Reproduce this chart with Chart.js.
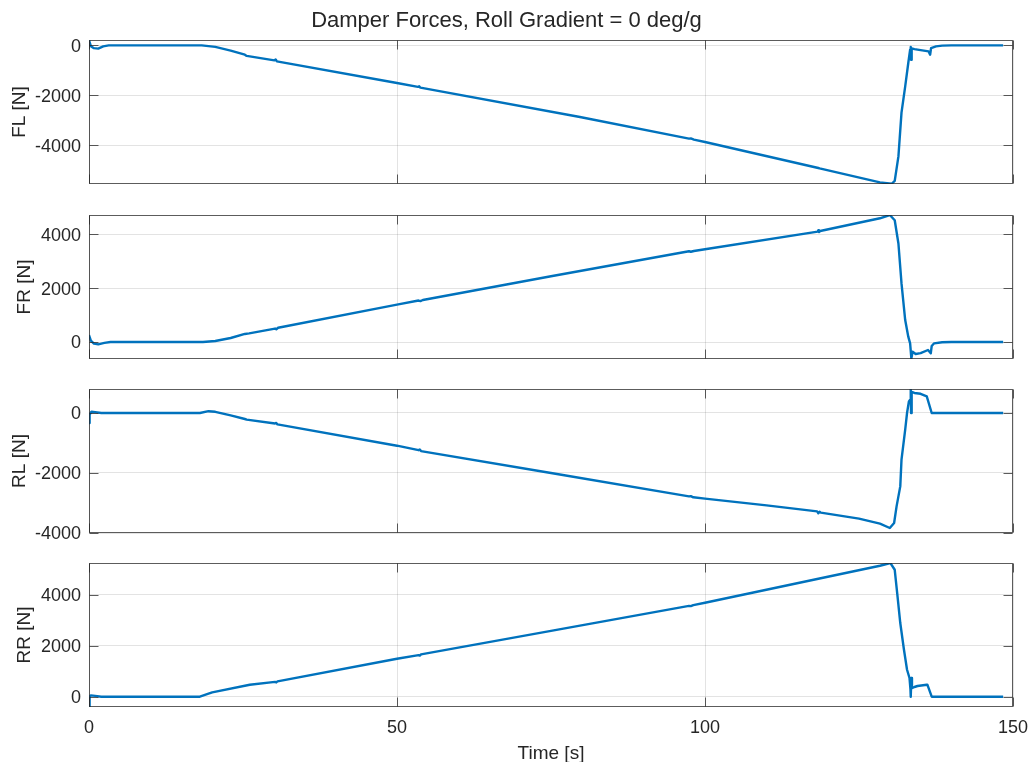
<!DOCTYPE html>
<html>
<head>
<meta charset="utf-8">
<title>Damper Forces</title>
<script src="https://cdn.jsdelivr.net/npm/chart.js@4"></script>
<style>
  html, body { margin: 0; padding: 0; background: #fff; overflow: hidden; }
  #wrap { position: relative; width: 1031px; height: 762px; }
  #wrap canvas { position: absolute; left: 0; }
</style>
</head>
<body>
<div id="wrap">
  <canvas id="flChart" width="1031" height="200" style="top:0px"></canvas>
  <canvas id="frChart" width="1031" height="180" style="top:195px"></canvas>
  <canvas id="rlChart" width="1031" height="180" style="top:369px"></canvas>
  <canvas id="rrChart" width="1031" height="219" style="top:543px"></canvas>
</div>
<script>
// Damper forces per corner
const titleText = 'Damper Forces, Roll Gradient = 0 deg/g'
const xLabel = 'Time [s]'
const xTicks = [0, 50, 100, 150]

const flTime = [0, 0.3, 0.8, 1.5, 2.3, 3.2, 18.3, 20.5, 23, 25.3, 25.6, 30.1, 30.3, 30.5, 50, 53.4, 53.6, 53.8, 79.7, 97.4, 97.7, 98.2, 100, 118.4, 118.6, 128.4, 130.3, 130.8, 131.4, 131.9, 132.5, 133.0, 133.3, 133.4, 133.45, 133.55, 134.0, 135.0, 136.3, 136.55, 136.7, 137.5, 138.5, 140, 148.4]
const flForce = [210, -30, -110, -130, -40, 0, 0, -60, -210, -372, -420, -600, -560, -640, -1504, -1660, -1630, -1690, -2864, -3730, -3720, -3770, -3864, -4904, -4920, -5480, -5535, -5420, -4440, -2692, -1640, -704, -172, -64, -572, -120, -150, -190, -240, -372, -110, -40, -10, 0, 0]

const frTime = [0, 0.3, 0.8, 1.5, 2.5, 3.5, 18.5, 20.5, 23, 25.3, 26, 30.2, 30.4, 30.7, 50, 53.5, 53.8, 54.2, 75, 97.4, 97.7, 98.2, 100, 118.3, 118.4, 118.5, 118.7, 128.4, 130.0, 130.8, 131.4, 131.9, 132.5, 133.0, 133.3, 133.5, 133.7, 134.2, 135.0, 136.2, 136.65, 136.8, 137.2, 138.5, 140, 148.4]
const frForce = [260, 50, -60, -85, -30, 0, 0, 40, 150, 300, 320, 500, 470, 530, 1390, 1540, 1520, 1560, 2440, 3370, 3350, 3380, 3445, 4100, 4150, 4080, 4120, 4593, 4715, 4519, 3656, 2174, 815, 198, -48, -604, -358, -444, -410, -296, -420, -150, -48, -10, 0, 0]

const rlTime = [0, 0.1, 0.4, 1.0, 2.0, 18.0, 19.4, 20.5, 23, 25.3, 25.6, 30.2, 30.4, 30.6, 50, 53.5, 53.7, 53.9, 75, 97.4, 97.7, 98.1, 100, 110, 118.2, 118.4, 118.6, 118.8, 125, 128.4, 130.0, 130.7, 131.1, 131.7, 131.9, 132.5, 132.8, 133.1, 133.3, 133.4, 133.45, 133.55, 134.0, 135.0, 136.0, 136.8, 148.4]
const rlForce = [-333, -50, 40, 30, 0, 0, 60, 40, -80, -200, -220, -350, -330, -380, -1090, -1240, -1220, -1270, -2000, -2780, -2770, -2810, -2856, -3080, -3280, -3340, -3290, -3320, -3520, -3690, -3833, -3666, -3113, -2446, -1556, -556, 0, 387, 443, 800, 0, 700, 667, 640, 553, 0, 0]

const rrTime = [0, 0.1, 0.3, 1, 2, 18, 19.4, 20, 26.1, 30.2, 30.4, 30.6, 50, 53.5, 53.7, 53.9, 75, 97.4, 97.7, 98.1, 100, 118.4, 128.4, 130.1, 130.8, 131.2, 131.7, 132.3, 132.8, 133.2, 133.35, 133.4, 133.5, 133.6, 134.0, 134.5, 136.0, 136.1, 136.8, 148.4]
const rrForce = [-400, 0, 50, 30, 0, 0, 117, 170, 470, 580, 560, 600, 1490, 1630, 1610, 1660, 2580, 3560, 3550, 3590, 3685, 4626, 5135, 5241, 4978, 4065, 2889, 1842, 1058, 732, 300, 0, 732, 340, 380, 420, 470, 470, 0, 0]

const flTicks = [-4000, -2000, 0]
const frTicks = [0, 2000, 4000]
const rlTicks = [-4000, -2000, 0]
const rrTicks = [0, 2000, 4000]

const flRange = [-5544, 216]
const frRange = [-630, 4715]
const rlRange = [-4000, 800]
const rrRange = [-404, 5243]

const FONT = "'Liberation Sans', Arial, Helvetica, sans-serif"
const TEXT = '#262626'
const LINE = '#0072BD'

Chart.defaults.font.family = FONT
Chart.defaults.color = TEXT

// box round the axes + inward tick marks (matlab style)
const boxPlugin = {
  id: 'box',
  afterDraw(chart) {
    const { ctx, chartArea: a, scales } = chart
    const L = Math.round(a.left) + 0.5, R = Math.round(a.right) - 0.5
    const T = Math.round(a.top) + 0.5, B = Math.round(a.bottom) - 0.5
    ctx.save()
    ctx.strokeStyle = 'rgba(38,38,38,0.75)'
    ctx.lineWidth = 1
    ctx.strokeRect(L, T, R - L, B - T)
    ctx.beginPath()
    scales.y.ticks.forEach((t) => {
      const py = Math.round(scales.y.getPixelForValue(t.value)) + 0.5
      ctx.moveTo(L, py); ctx.lineTo(L + 9, py)
      ctx.moveTo(R, py); ctx.lineTo(R - 9, py)
    })
    scales.x.ticks.forEach((t) => {
      const px = Math.round(scales.x.getPixelForValue(t.value)) + 0.5
      ctx.moveTo(px, T); ctx.lineTo(px, T + 9)
      ctx.moveTo(px, B); ctx.lineTo(px, B - 9)
    })
    ctx.stroke()
    ctx.restore()
  }
}

function makePanel(id, time, force, yTicks, yRange, label, labelPad, isTop, isBottom) {
  const ctx = document.getElementById(id).getContext('2d')
  const points = time.map((t, i) => ({ x: t, y: force[i] }))
  return new Chart(ctx, {
    type: 'line',
    data: { datasets: [{ data: points, borderColor: LINE, borderWidth: 2.4, pointRadius: 0, tension: 0, borderJoinStyle: 'round', fill: false }] },
    options: {
      responsive: false,
      animation: false,
      events: [],
      layout: { padding: { left: 0, right: 18, top: isTop ? 0 : 20, bottom: isBottom ? 0 : 16 } },
      plugins: {
        legend: { display: false },
        tooltip: { enabled: false },
        title: {
          display: isTop,
          text: titleText,
          color: TEXT,
          font: { size: 22, weight: 'normal' },
          padding: { top: 8, bottom: 5.6 }
        }
      },
      scales: {
        x: {
          type: 'linear',
          min: 0, max: 150,
          afterBuildTicks: (s) => { s.ticks = xTicks.map((v) => ({ value: v })) },
          afterFit: (s) => { s.height = isBottom ? 55 : 0; s.paddingLeft = 0; s.paddingRight = 0 },
          grid: { color: 'rgba(38,38,38,0.13)', drawTicks: false },
          border: { display: false },
          ticks: { display: isBottom, padding: 10, color: TEXT, font: { size: 18 }, callback: (v) => String(v) },
          title: { display: isBottom, text: xLabel, color: TEXT, font: { size: 19, lineHeight: 0.83 }, padding: 0 }
        },
        y: {
          min: yRange[0], max: yRange[1],
          afterBuildTicks: (s) => { s.ticks = yTicks.map((v) => ({ value: v })) },
          afterFit: (s) => { s.width = 89; s.paddingTop = 0; s.paddingBottom = 0 },
          grid: { color: 'rgba(38,38,38,0.13)', drawTicks: false },
          border: { display: false },
          ticks: { padding: 8, labelOffset: 1.5, color: TEXT, font: { size: 18 }, callback: (v) => String(v) },
          title: { display: true, text: label, color: TEXT, font: { size: 19 }, padding: { top: labelPad, bottom: 0 } }
        }
      }
    },
    plugins: [boxPlugin]
  })
}

makePanel('flChart', flTime, flForce, flTicks, flRange, 'FL [N]', 8, true, false)
makePanel('frChart', frTime, frForce, frTicks, frRange, 'FR [N]', 13.5, false, false)
makePanel('rlChart', rlTime, rlForce, rlTicks, rlRange, 'RL [N]', 8, false, false)
makePanel('rrChart', rrTime, rrForce, rrTicks, rrRange, 'RR [N]', 13.5, false, true)
</script>
</body>
</html>
